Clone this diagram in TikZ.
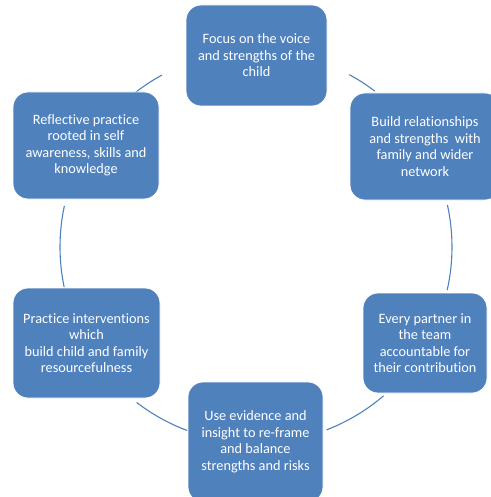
\documentclass[tikz,border=0pt]{standalone}
\usepackage{fontspec}
\setmainfont{Carlito}[Ligatures=NoCommon]
\definecolor{stageblue}{RGB}{79,129,189}

\begin{document}
\begin{tikzpicture}[x=1pt,y=-1pt,
        stage/.style={draw=white,line width=0.8pt,fill=stageblue,rounded corners=15pt,
            text=white,align=center,inner sep=0pt,font=\fontsize{14.3}{16.5}\selectfont},
        ring/.style={draw=stageblue,line width=1.1pt}]
    \useasboundingbox (0,0) rectangle (490,497);
    \coordinate (c) at (256,247);

    % the circle, broken between the boxes
    \foreach \s/\e in {118.7/128.4, 52.7/61.6, -12.7/12.4, 167.9/191.8, 232.5/249.5, -68.9/-49.4}
        \draw[ring] (c) ++(\s:196pt) arc[start angle=\s, end angle=\e, radius=196pt];

    \node[stage,minimum width=141pt,minimum height=101pt] (voice) at (256.5,55.5)
        {Focus on the voice\\and strengths of the\\child};
    \node[stage,minimum width=150pt,minimum height=107pt] (network) at (425,146.5)
        {Build relationships\\and strengths~ with\\family and wider\\network};
    \node[stage,minimum width=124pt,minimum height=100pt] (partner) at (425,343)
        {Every partner in\\the team\\accountable for\\their contribution};
    \node[stage,minimum width=135pt,minimum height=120pt] (evidence) at (255.5,442)
        {Use evidence and\\insight to re-frame\\and balance\\strengths and risks};
    \node[stage,minimum width=147pt,minimum height=110pt] (resource) at (86.5,343)
        {Practice interventions\\which\\build child and family\\resourcefulness};
    \node[stage,minimum width=146pt,minimum height=107pt] (reflect) at (86,145.5)
        {Reflective practice\\rooted in self\\awareness, skills and\\knowledge};
\end{tikzpicture}
\end{document}
